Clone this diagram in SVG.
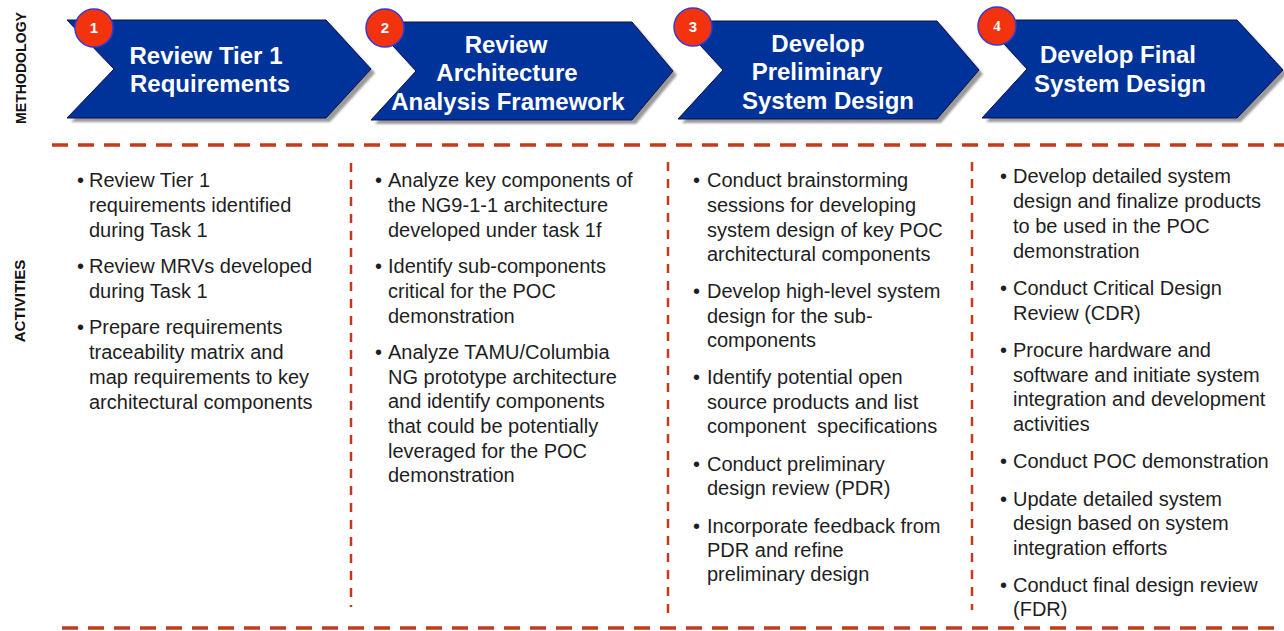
<svg xmlns="http://www.w3.org/2000/svg" width="1284" height="631" viewBox="0 0 1284 631">
<style>
.chev{fill:#003399;stroke:#10104a;stroke-width:1}
.shad{fill:#9a9a9a;filter:url(#blur)}
.badge{fill:#f2330d;stroke:#3a3ad0;stroke-width:1.5}
.num{font-family:"Liberation Sans",Arial,sans-serif;font-weight:bold;font-size:15px;fill:#fff;text-anchor:middle}
.title{font-family:"Liberation Sans",Arial,sans-serif;font-weight:bold;font-size:24px;fill:#fff;text-anchor:middle}
.side{font-family:"Liberation Sans",Arial,sans-serif;font-weight:bold;font-size:15px;fill:#111;text-anchor:middle}
.act{font-family:"Liberation Sans",Arial,sans-serif;font-size:20px;fill:#1e1e1e;white-space:pre}
.dh{stroke:#c23b1e;stroke-width:3.5;stroke-dasharray:16 10;fill:none}
.dv{stroke:#c23b1e;stroke-width:2.5;stroke-dasharray:9 8;fill:none}
</style>
<defs>
<filter id="blur" x="-10%" y="-10%" width="120%" height="120%"><feGaussianBlur stdDeviation="1.2"/></filter>
</defs>
<rect width="1284" height="631" fill="#fff"/>

<text class="side" transform="translate(26,68) rotate(-90)" textLength="112" lengthAdjust="spacingAndGlyphs">METHODOLOGY</text>
<text class="side" transform="translate(25,301) rotate(-90)">ACTIVITIES</text>

<g id="connectors">
<line class="dh" x1="52" y1="145" x2="1284" y2="145"/>
<line class="dh" x1="62" y1="628" x2="1284" y2="628"/>
<line class="dv" x1="351" y1="163" x2="351" y2="607"/>
<line class="dv" x1="668" y1="162" x2="668" y2="617"/>
<line class="dv" x1="972" y1="162" x2="972" y2="610"/>
</g>

<g id="step1">
<polygon class="shad" points="71,24 330,24 375,73 330,122 71,122 118,73"/>
<polygon class="chev" points="67,20 326,20 371,69 326,118 67,118 114,69"/>
<text class="title" x="206" y="64">Review Tier 1</text>
<text class="title" x="210" y="92">Requirements</text>
<circle class="badge" cx="94" cy="28" r="19"/>
<text class="num" x="94" y="33">1</text>
</g>

<g id="step2">
<polygon class="shad" points="375,26 636,26 677,75 636,124 375,124 420,75"/>
<polygon class="chev" points="371,22 632,22 673,71 632,120 371,120 416,71"/>
<text class="title" x="506" y="53">Review</text>
<text class="title" x="507" y="81">Architecture</text>
<text class="title" x="508" y="110">Analysis Framework</text>
<circle class="badge" cx="385" cy="28" r="19"/>
<text class="num" x="385" y="33">2</text>
</g>

<g id="step3">
<polygon class="shad" points="682,25 941,25 983,74 941,123 682,123 727,74"/>
<polygon class="chev" points="678,21 937,21 979,70 937,119 678,119 723,70"/>
<text class="title" x="818" y="52">Develop</text>
<text class="title" x="817" y="80">Preliminary</text>
<text class="title" x="828" y="109">System Design</text>
<circle class="badge" cx="693" cy="27" r="19"/>
<text class="num" x="693" y="32">3</text>
</g>

<g id="step4">
<polygon class="shad" points="986,24 1241,24 1287,74 1241,122 986,122 1031,73"/>
<polygon class="chev" points="982,20 1237,20 1283,70 1237,118 982,118 1027,69"/>
<text class="title" x="1118" y="63">Develop Final</text>
<text class="title" x="1120" y="92">System Design</text>
<circle class="badge" cx="997" cy="26" r="19"/>
<text class="num" x="997" y="31" style="font-family:'Liberation Serif','Times New Roman',serif">4</text>
</g>

<g id="activities1" class="act">
<text x="77" y="187">•</text><text x="89" y="187">Review Tier 1</text>
<text x="89" y="212">requirements identified</text>
<text x="89" y="237">during Task 1</text>
<text x="77" y="273">•</text><text x="89" y="273">Review MRVs developed</text>
<text x="89" y="298">during Task 1</text>
<text x="77" y="334">•</text><text x="89" y="334">Prepare requirements</text>
<text x="89" y="359">traceability matrix and</text>
<text x="89" y="384">map requirements to key</text>
<text x="89" y="409">architectural components</text>
</g>

<g id="activities2" class="act">
<text x="375" y="187">•</text><text x="388" y="187">Analyze key components of</text>
<text x="388" y="212">the NG9-1-1 architecture</text>
<text x="388" y="237">developed under task 1f</text>
<text x="375" y="273">•</text><text x="388" y="273">Identify sub-components</text>
<text x="388" y="298">critical for the POC</text>
<text x="388" y="323">demonstration</text>
<text x="375" y="359">•</text><text x="388" y="359">Analyze TAMU/Columbia</text>
<text x="388" y="384">NG prototype architecture</text>
<text x="388" y="408">and identify components</text>
<text x="388" y="433">that could be potentially</text>
<text x="388" y="458">leveraged for the POC</text>
<text x="388" y="482">demonstration</text>
</g>

<g id="activities3" class="act">
<text x="693" y="187">•</text><text x="707" y="187">Conduct brainstorming</text>
<text x="707" y="212">sessions for developing</text>
<text x="707" y="237">system design of key POC</text>
<text x="707" y="261">architectural components</text>
<text x="693" y="298">•</text><text x="707" y="298">Develop high-level system</text>
<text x="707" y="323">design for the sub-</text>
<text x="707" y="347">components</text>
<text x="693" y="384">•</text><text x="707" y="384">Identify potential open</text>
<text x="707" y="409">source products and list</text>
<text x="707" y="433" xml:space="preserve">component  specifications</text>
<text x="693" y="471">•</text><text x="707" y="471">Conduct preliminary</text>
<text x="707" y="495">design review (PDR)</text>
<text x="693" y="533">•</text><text x="707" y="533">Incorporate feedback from</text>
<text x="707" y="557">PDR and refine</text>
<text x="707" y="581">preliminary design</text>
</g>

<g id="activities4" class="act">
<text x="1000" y="183">•</text><text x="1013" y="183">Develop detailed system</text>
<text x="1013" y="208">design and finalize products</text>
<text x="1013" y="233">to be used in the POC</text>
<text x="1013" y="258">demonstration</text>
<text x="1000" y="295">•</text><text x="1013" y="295">Conduct Critical Design</text>
<text x="1013" y="320">Review (CDR)</text>
<text x="1000" y="357">•</text><text x="1013" y="357">Procure hardware and</text>
<text x="1013" y="382">software and initiate system</text>
<text x="1013" y="406">integration and development</text>
<text x="1013" y="431">activities</text>
<text x="1000" y="468">•</text><text x="1013" y="468">Conduct POC demonstration</text>
<text x="1000" y="506">•</text><text x="1013" y="506">Update detailed system</text>
<text x="1013" y="530">design based on system</text>
<text x="1013" y="555">integration efforts</text>
<text x="1000" y="592">•</text><text x="1013" y="592">Conduct final design review</text>
<text x="1013" y="616">(FDR)</text>
</g>
</svg>
